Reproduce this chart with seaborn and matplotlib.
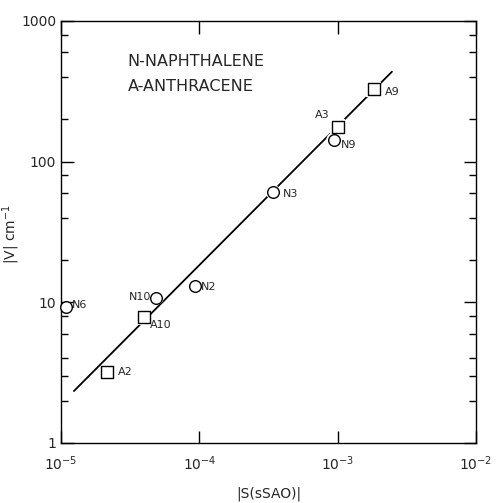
import numpy as np
import matplotlib
matplotlib.use('Agg')
import matplotlib.pyplot as plt
import matplotlib.ticker as mticker
import seaborn as sns

# N = naphthalene (circles), A = anthracene (squares)
N_LABELS = ['N6', 'N10', 'N2', 'N3', 'N9']
N_S = [1.08e-5, 4.9e-5, 9.3e-5, 3.4e-4, 9.35e-4]
N_V = [9.2, 10.8, 13.1, 61.0, 143.0]

A_LABELS = ['A2', 'A10', 'A3', 'A9']
A_S = [2.14e-5, 3.97e-5, 1.0e-3, 1.82e-3]
A_V = [3.2, 7.8, 177.0, 327.0]

# fitted line end points
FIT_S = [1.24e-5, 2.47e-3]
FIT_V = [2.34, 436.0]

# label offsets in pixels (dx, dy, ha)
N_OFFS = [(6, 2, 'left'), (-5, 1, 'right'), (6, -1, 'left'), (10, -2, 'left'), (7, -5, 'left')]
A_OFFS = [(11, 0, 'left'), (6, -8, 'left'), (-8, 12, 'right'), (11, -3, 'left')]

sns.set_style('ticks')
plt.rcParams['font.family'] = ['DejaVu Sans']

fig = plt.figure(figsize=(4.97, 5.03), dpi=100)
ax = fig.add_axes([0.1227, 0.1193, 0.835, 0.839])

sns.lineplot(x=FIT_S, y=FIT_V, ax=ax, color='black', lw=1.3, zorder=2)
# white halo so the line breaks a little around the markers sitting on it
sns.scatterplot(x=N_S[1:], y=N_V[1:], ax=ax, marker='o', s=110, color='white',
                edgecolor='none', zorder=3)
sns.scatterplot(x=A_S[1:], y=A_V[1:], ax=ax, marker='s', s=110, color='white',
                edgecolor='none', zorder=3)
sns.scatterplot(x=N_S, y=N_V, ax=ax, marker='o', s=70, facecolor='white',
                edgecolor='black', linewidth=1.0, zorder=4, clip_on=False)
sns.scatterplot(x=A_S, y=A_V, ax=ax, marker='s', s=72, facecolor='white',
                edgecolor='black', linewidth=1.0, zorder=4)

ax.set_xscale('log')
ax.set_yscale('log')
ax.set_xlim(1e-5, 1e-2)
ax.set_ylim(1, 1000)

for lab, x, y, (dx, dy, ha) in zip(N_LABELS, N_S, N_V, N_OFFS):
    ax.annotate(lab, (x, y), xytext=(dx, dy), textcoords='offset pixels',
                ha=ha, va='center', fontsize=8, zorder=5)
for lab, x, y, (dx, dy, ha) in zip(A_LABELS, A_S, A_V, A_OFFS):
    ax.annotate(lab, (x, y), xytext=(dx, dy), textcoords='offset pixels',
                ha=ha, va='center', fontsize=8, zorder=5)

ax.text(0.16, 0.905, 'N-NAPHTHALENE', transform=ax.transAxes, fontsize=11.5,
        va='center')
ax.text(0.16, 0.845, 'A-ANTHRACENE', transform=ax.transAxes, fontsize=11.5,
        va='center')

# ticks
ax.xaxis.set_major_locator(mticker.FixedLocator([1e-5, 1e-4, 1e-3, 1e-2]))
ax.xaxis.set_minor_locator(mticker.NullLocator())
ax.yaxis.set_major_locator(mticker.FixedLocator([1, 10, 100, 1000]))
ax.yaxis.set_major_formatter(mticker.FixedFormatter(['1', '10', '100', '1000']))
ax.yaxis.set_minor_locator(mticker.FixedLocator(
    [2, 3, 4, 6, 8, 20, 40, 60, 80, 200, 400, 600, 800]))
ax.yaxis.set_minor_formatter(mticker.NullFormatter())
ax.tick_params(which='both', direction='in', top=True, right=True, width=1.0,
               labelsize=10, color='black')
ax.tick_params(which='major', length=9)
ax.tick_params(which='minor', length=5)
ax.tick_params(axis='x', pad=8)

for sp in ax.spines.values():
    sp.set_color('black')
    sp.set_linewidth(1.0)

ax.set_xlabel('|S(sSAO)|', fontsize=10, labelpad=10)
ax.set_ylabel('|V| cm$^{-1}$', fontsize=10)
ax.yaxis.set_label_coords(-0.095, 0.495)

fig.savefig('out.png', dpi=100)
